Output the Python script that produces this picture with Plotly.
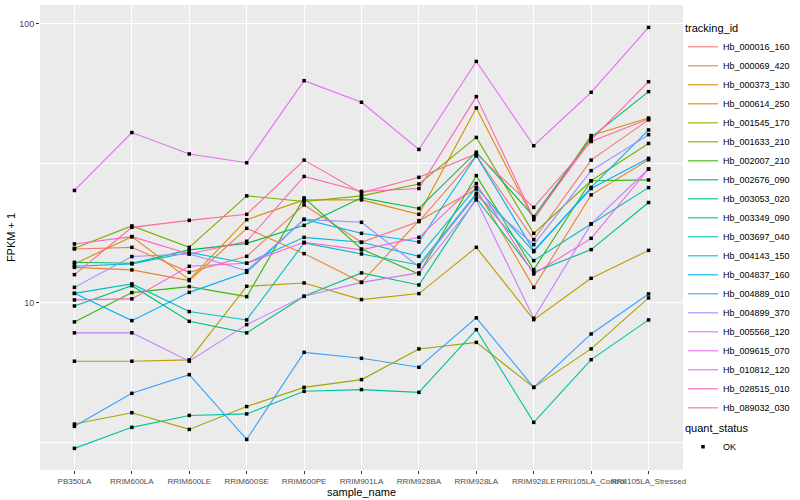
import math
import plotly.graph_objects as go

samples = ["PB350LA", "RRIM600LA", "RRIM600LE", "RRIM600SE", "RRIM600PE", "RRIM901LA",
           "RRIM928BA", "RRIM928LA", "RRIM928LE", "RRII105LA_Control", "RRII105LA_Stressed"]

tracking_ids = ["Hb_000016_160", "Hb_000069_420", "Hb_000373_130", "Hb_000614_250",
                "Hb_001545_170", "Hb_001633_210", "Hb_002007_210", "Hb_002676_090",
                "Hb_003053_020", "Hb_003349_090", "Hb_003697_040", "Hb_004143_150",
                "Hb_004837_160", "Hb_004889_010", "Hb_004899_370", "Hb_005568_120",
                "Hb_009615_070", "Hb_010812_120", "Hb_028515_010", "Hb_089032_030"]

# FPKM + 1 per gene, per sample (order of samples above)
Hb_000016_160 = [15.61, 15.82, 12.87, 14.69, 22.45, 16.49, 19.56, 33.7, 16.86, 32.5, 45.3]
Hb_000069_420 = [13.41, 13.13, 12.02, 18.51, 15.02, 11.85, 19.72, 25.6, 11.37, 24.4, 32.6]
Hb_000373_130 = [13.80, 17.28, 12.12, 19.88, 23.4, 23.4, 20.78, 50.0, 19.88, 39.8, 46.0]
Hb_000614_250 = [6.18, 6.18, 6.25, 11.47, 11.79, 10.28, 10.80, 15.82, 8.71, 12.25, 15.43]
Hb_001545_170 = [3.68, 4.04, 3.52, 4.25, 4.98, 5.31, 6.84, 7.22, 4.98, 6.84, 10.42]
Hb_001633_210 = [15.69, 18.88, 15.82, 24.2, 23.1, 24.2, 26.7, 39.2, 17.76, 27.4, 37.3]
Hb_002007_210 = [8.55, 10.89, 11.44, 10.53, 23.8, 15.61, 12.70, 28.6, 13.16, 27.4, 27.6]
Hb_002676_090 = [13.98, 13.87, 15.49, 16.35, 18.97, 23.8, 21.8, 34.7, 20.4, 39.2, 57.2]
Hb_003053_020 = [9.75, 11.53, 8.59, 7.81, 10.56, 12.81, 11.60, 23.7, 12.87, 15.53, 22.9]
Hb_003349_090 = [3.01, 3.58, 3.95, 4.00, 4.82, 4.89, 4.78, 8.02, 3.73, 6.26, 8.69]
Hb_003697_040 = [10.82, 11.70, 9.31, 8.69, 16.41, 14.98, 13.68, 24.7, 14.18, 19.19, 25.9]
Hb_004143_150 = [13.53, 13.80, 15.18, 13.87, 17.18, 16.49, 14.69, 25.96, 15.27, 25.96, 41.7]
Hb_004837_160 = [10.82, 8.64, 10.91, 12.87, 19.93, 17.76, 16.54, 33.7, 15.40, 25.7, 33.0]
Hb_004889_010 = [3.61, 4.74, 5.53, 3.24, 6.65, 6.33, 5.88, 8.84, 4.98, 7.74, 10.77]
Hb_004899_370 = [11.37, 14.66, 14.98, 13.05, 19.93, 19.45, 13.49, 24.4, 16.18, 29.8, 40.1]
Hb_005568_120 = [7.81, 7.81, 6.18, 8.36, 10.56, 11.85, 12.81, 23.4, 8.81, 19.19, 30.2]
Hb_009615_070 = [25.3, 40.8, 34.2, 31.8, 62.6, 52.4, 35.5, 73.4, 36.6, 56.9, 97.2]
Hb_010812_120 = [10.25, 10.34, 13.53, 13.87, 16.49, 15.49, 17.18, 26.8, 12.70, 17.04, 30.2]
Hb_028515_010 = [16.27, 17.28, 14.98, 16.63, 28.4, 25.1, 25.7, 54.9, 20.1, 38.4, 62.1]
Hb_089032_030 = [12.63, 18.66, 19.77, 20.78, 32.5, 24.8, 28.2, 34.2, 22.0, 37.9, 45.6]

series = [Hb_000016_160, Hb_000069_420, Hb_000373_130, Hb_000614_250, Hb_001545_170,
          Hb_001633_210, Hb_002007_210, Hb_002676_090, Hb_003053_020, Hb_003349_090,
          Hb_003697_040, Hb_004143_150, Hb_004837_160, Hb_004889_010, Hb_004899_370,
          Hb_005568_120, Hb_009615_070, Hb_010812_120, Hb_028515_010, Hb_089032_030]

quant_status = "OK"


def hcl_hex(h, c=100.0, l=65.0):
    # polar CIE-Luv -> sRGB (as in R's hcl), D65 white
    xn, yn, zn = 95.047, 100.0, 108.883
    hr = math.radians(h)
    u, v = c * math.cos(hr), c * math.sin(hr)
    y = yn * ((l + 16) / 116) ** 3 if l > 8 else yn * l / 903.3
    den = xn + 15 * yn + 3 * zn
    un, vn = 4 * xn / den, 9 * yn / den
    up = u / (13 * l) + un
    vp = v / (13 * l) + vn
    x = 9 * y * up / (4 * vp)
    z = -x / 3 - 5 * y + 3 * y / vp
    x, y, z = x / 100, y / 100, z / 100
    r = 3.240479 * x - 1.537150 * y - 0.498535 * z
    g = -0.969256 * x + 1.875992 * y + 0.041556 * z
    b = 0.055648 * x - 0.204043 * y + 1.057311 * z

    def gam(t):
        t = 12.92 * t if t <= 0.0031308 else 1.055 * t ** (1 / 2.4) - 0.055
        return max(0, min(255, int(round(t * 255))))
    return "#%02X%02X%02X" % (gam(r), gam(g), gam(b))


n = len(tracking_ids)
colors = [hcl_hex(15 + 360 * i / n) for i in range(n)]

fig = go.Figure()
for name, vals, col in zip(tracking_ids, series, colors):
    fig.add_trace(go.Scatter(x=samples, y=vals, mode="lines", name=name,
                             line=dict(color=col, width=1.1), legend="legend"))

all_x = [s for vals in series for s in samples]
all_y = [v for vals in series for v in vals]
fig.add_trace(go.Scatter(x=all_x, y=all_y, mode="markers", name=quant_status,
                         marker=dict(color="black", size=3.5, symbol="square"),
                         legend="legend2"))

font = "Liberation Sans, Arial, sans-serif"
fig.update_layout(
    width=800, height=500,
    margin=dict(l=40, r=117, t=5, b=30, autoexpand=False),
    paper_bgcolor="white", plot_bgcolor="#EBEBEB",
    font=dict(family=font, size=9, color="black"),
    legend=dict(title=dict(text="tracking_id", font=dict(size=11)),
                x=1.0, xanchor="left", y=0.972, yanchor="top",
                bgcolor="rgba(0,0,0,0)", tracegroupgap=0, itemwidth=30,
                font=dict(size=9)),
    legend2=dict(title=dict(text="quant_status", font=dict(size=11)),
                 x=1.0, xanchor="left", y=0.112, yanchor="top",
                 bgcolor="rgba(0,0,0,0)", itemwidth=30, font=dict(size=9)),
    xaxis=dict(type="category", categoryorder="array", categoryarray=samples,
               range=[-0.6, len(samples) - 0.4], tickangle=0, automargin=False,
               showgrid=True, gridcolor="white", gridwidth=1.1, zeroline=False,
               ticks="outside", ticklen=3, tickcolor="#333333",
               tickfont=dict(size=8, color="#4D4D4D"),
               title=dict(text="sample_name", font=dict(size=11), standoff=1)),
    yaxis=dict(type="log", range=[0.401, 2.068], tickvals=[10, 100], ticktext=["10", "100"],
               automargin=False,
               showgrid=True, gridcolor="white", gridwidth=1.1, zeroline=False,
               ticks="outside", ticklen=3, tickcolor="#333333",
               tickfont=dict(size=9, color="#4D4D4D"),
               minor=dict(tickvals=[10 ** 0.5, 10 ** 1.5], showgrid=True,
                          gridcolor="white", gridwidth=0.55, ticks=""),
               title=dict(text="FPKM + 1", font=dict(size=11), standoff=1)),
)

fig.write_html("out.html", config={"displayModeBar": False},
               post_script="document.body.style.margin='0px';")
